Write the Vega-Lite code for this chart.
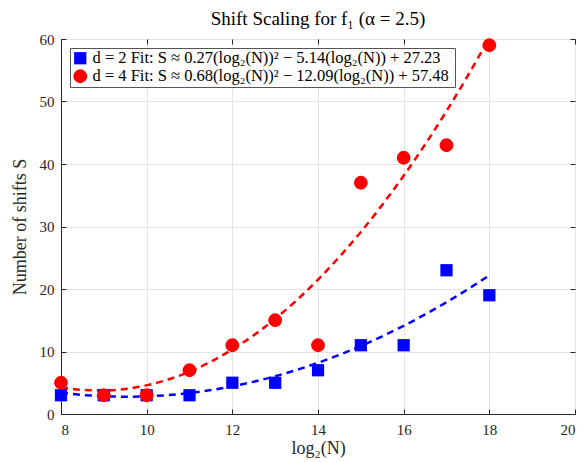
{
  "$schema": "https://vega.github.io/schema/vega-lite/v6.json",
  "autosize": "none",
  "width": 514,
  "height": 375,
  "padding": {"left": 61, "top": 39, "right": 9, "bottom": 48},
  "background": "white",
  "title": {"text": "Shift Scaling for f₁ (α = 2.5)", "font": "Liberation Serif", "fontSize": 19, "fontWeight": "normal", "color": "#000000", "offset": 3},
  "config": {
    "view": {"stroke": "#262626", "strokeWidth": 1},
    "axis": {"labelFont": "Liberation Serif", "titleFont": "Liberation Serif", "labelFontSize": 15, "titleFontSize": 18, "titleFontWeight": "normal", "labelColor": "#262626", "titleColor": "#262626", "domainColor": "#262626", "tickColor": "#262626", "gridColor": "#e3e3e3", "tickSize": -5}
  },
  "datasets": {
    "pts": [
      {"x": 8, "S": 3, "d": "d = 2 Fit:  S ≈ 0.27(log₂(N))² − 5.14(log₂(N)) + 27.23"},
      {"x": 9, "S": 3, "d": "d = 2 Fit:  S ≈ 0.27(log₂(N))² − 5.14(log₂(N)) + 27.23"},
      {"x": 10, "S": 3, "d": "d = 2 Fit:  S ≈ 0.27(log₂(N))² − 5.14(log₂(N)) + 27.23"},
      {"x": 11, "S": 3, "d": "d = 2 Fit:  S ≈ 0.27(log₂(N))² − 5.14(log₂(N)) + 27.23"},
      {"x": 12, "S": 5, "d": "d = 2 Fit:  S ≈ 0.27(log₂(N))² − 5.14(log₂(N)) + 27.23"},
      {"x": 13, "S": 5, "d": "d = 2 Fit:  S ≈ 0.27(log₂(N))² − 5.14(log₂(N)) + 27.23"},
      {"x": 14, "S": 7, "d": "d = 2 Fit:  S ≈ 0.27(log₂(N))² − 5.14(log₂(N)) + 27.23"},
      {"x": 15, "S": 11, "d": "d = 2 Fit:  S ≈ 0.27(log₂(N))² − 5.14(log₂(N)) + 27.23"},
      {"x": 16, "S": 11, "d": "d = 2 Fit:  S ≈ 0.27(log₂(N))² − 5.14(log₂(N)) + 27.23"},
      {"x": 17, "S": 23, "d": "d = 2 Fit:  S ≈ 0.27(log₂(N))² − 5.14(log₂(N)) + 27.23"},
      {"x": 18, "S": 19, "d": "d = 2 Fit:  S ≈ 0.27(log₂(N))² − 5.14(log₂(N)) + 27.23"},
      {"x": 8, "S": 5, "d": "d = 4 Fit:  S ≈ 0.68(log₂(N))² − 12.09(log₂(N)) + 57.48"},
      {"x": 9, "S": 3, "d": "d = 4 Fit:  S ≈ 0.68(log₂(N))² − 12.09(log₂(N)) + 57.48"},
      {"x": 10, "S": 3, "d": "d = 4 Fit:  S ≈ 0.68(log₂(N))² − 12.09(log₂(N)) + 57.48"},
      {"x": 11, "S": 7, "d": "d = 4 Fit:  S ≈ 0.68(log₂(N))² − 12.09(log₂(N)) + 57.48"},
      {"x": 12, "S": 11, "d": "d = 4 Fit:  S ≈ 0.68(log₂(N))² − 12.09(log₂(N)) + 57.48"},
      {"x": 13, "S": 15, "d": "d = 4 Fit:  S ≈ 0.68(log₂(N))² − 12.09(log₂(N)) + 57.48"},
      {"x": 14, "S": 11, "d": "d = 4 Fit:  S ≈ 0.68(log₂(N))² − 12.09(log₂(N)) + 57.48"},
      {"x": 15, "S": 37, "d": "d = 4 Fit:  S ≈ 0.68(log₂(N))² − 12.09(log₂(N)) + 57.48"},
      {"x": 16, "S": 41, "d": "d = 4 Fit:  S ≈ 0.68(log₂(N))² − 12.09(log₂(N)) + 57.48"},
      {"x": 17, "S": 43, "d": "d = 4 Fit:  S ≈ 0.68(log₂(N))² − 12.09(log₂(N)) + 57.48"},
      {"x": 18, "S": 59, "d": "d = 4 Fit:  S ≈ 0.68(log₂(N))² − 12.09(log₂(N)) + 57.48"}
    ],
    "fit": [
      {"x": 8, "S": 3.39, "s": "d2"}, {"x": 8.5, "S": 3.05, "s": "d2"}, {"x": 9, "S": 2.84, "s": "d2"}, {"x": 9.5, "S": 2.77, "s": "d2"},
      {"x": 10, "S": 2.83, "s": "d2"}, {"x": 10.5, "S": 3.03, "s": "d2"}, {"x": 11, "S": 3.36, "s": "d2"}, {"x": 11.5, "S": 3.83, "s": "d2"},
      {"x": 12, "S": 4.43, "s": "d2"}, {"x": 12.5, "S": 5.17, "s": "d2"}, {"x": 13, "S": 6.04, "s": "d2"}, {"x": 13.5, "S": 7.05, "s": "d2"},
      {"x": 14, "S": 8.19, "s": "d2"}, {"x": 14.5, "S": 9.47, "s": "d2"}, {"x": 15, "S": 10.88, "s": "d2"}, {"x": 15.5, "S": 12.43, "s": "d2"},
      {"x": 16, "S": 14.11, "s": "d2"}, {"x": 16.5, "S": 15.93, "s": "d2"}, {"x": 17, "S": 17.88, "s": "d2"}, {"x": 17.5, "S": 19.97, "s": "d2"},
      {"x": 18, "S": 22.19, "s": "d2"},
      {"x": 8, "S": 4.28, "s": "d4"}, {"x": 8.5, "S": 3.85, "s": "d4"}, {"x": 9, "S": 3.75, "s": "d4"}, {"x": 9.5, "S": 4.0, "s": "d4"},
      {"x": 10, "S": 4.58, "s": "d4"}, {"x": 10.5, "S": 5.51, "s": "d4"}, {"x": 11, "S": 6.77, "s": "d4"}, {"x": 11.5, "S": 8.38, "s": "d4"},
      {"x": 12, "S": 10.32, "s": "d4"}, {"x": 12.5, "S": 12.61, "s": "d4"}, {"x": 13, "S": 15.23, "s": "d4"}, {"x": 13.5, "S": 18.2, "s": "d4"},
      {"x": 14, "S": 21.5, "s": "d4"}, {"x": 14.5, "S": 25.15, "s": "d4"}, {"x": 15, "S": 29.13, "s": "d4"}, {"x": 15.5, "S": 33.46, "s": "d4"},
      {"x": 16, "S": 38.12, "s": "d4"}, {"x": 16.5, "S": 43.13, "s": "d4"}, {"x": 17, "S": 48.47, "s": "d4"}, {"x": 17.5, "S": 54.16, "s": "d4"},
      {"x": 18, "S": 60.18, "s": "d4"}
    ]
  },
  "layer": [
    {
      "data": {"name": "fit"},
      "mark": {"type": "line", "strokeDash": [7, 5], "strokeWidth": 2.5, "interpolate": "monotone"},
      "encoding": {
        "x": {"field": "x", "type": "quantitative", "scale": {"domain": [8, 20], "nice": false}, "axis": {"values": [8, 10, 12, 14, 16, 18, 20], "title": "log₂(N)", "labelPadding": 13, "titlePadding": 2}},
        "y": {"field": "S", "type": "quantitative", "scale": {"domain": [0, 60], "nice": false}, "axis": {"values": [0, 10, 20, 30, 40, 50, 60], "title": "Number of shifts S", "labelPadding": 12, "titlePadding": 10}},
        "stroke": {"field": "s", "type": "nominal", "scale": {"domain": ["d2", "d4"], "range": ["#0000ff", "#ff0000"]}, "legend": null},
        "detail": {"field": "s"}
      }
    },
    {
      "data": {"name": "pts"},
      "mark": {"type": "point", "filled": true, "opacity": 1},
      "encoding": {
        "x": {"field": "x", "type": "quantitative", "axis": {"orient": "top", "values": [8, 10, 12, 14, 16, 18, 20], "labels": false, "title": null, "grid": false, "domain": false}},
        "y": {"field": "S", "type": "quantitative", "axis": {"orient": "right", "values": [0, 10, 20, 30, 40, 50, 60], "labels": false, "title": null, "grid": false, "domain": false}},
        "color": {"field": "d", "type": "nominal", "scale": {"range": ["#0000ff", "#ff0000"]}, "legend": {"orient": "top-left", "offset": 9, "title": null, "labelFont": "Liberation Serif", "labelFontSize": 16.5, "labelColor": "#000000", "labelLimit": 500, "labelOffset": 4, "symbolSize": 150, "fillColor": "white", "strokeColor": "#555555", "padding": 2, "rowPadding": 1, "symbolOpacity": 1, "symbolStrokeWidth": 0}},
        "shape": {"field": "d", "type": "nominal", "scale": {"range": ["square", "circle"]}},
        "size": {"field": "d", "type": "nominal", "scale": {"range": [150, 190]}, "legend": null}
      }
    }
  ],
  "resolve": {"axis": {"x": "independent", "y": "independent"}}
}
